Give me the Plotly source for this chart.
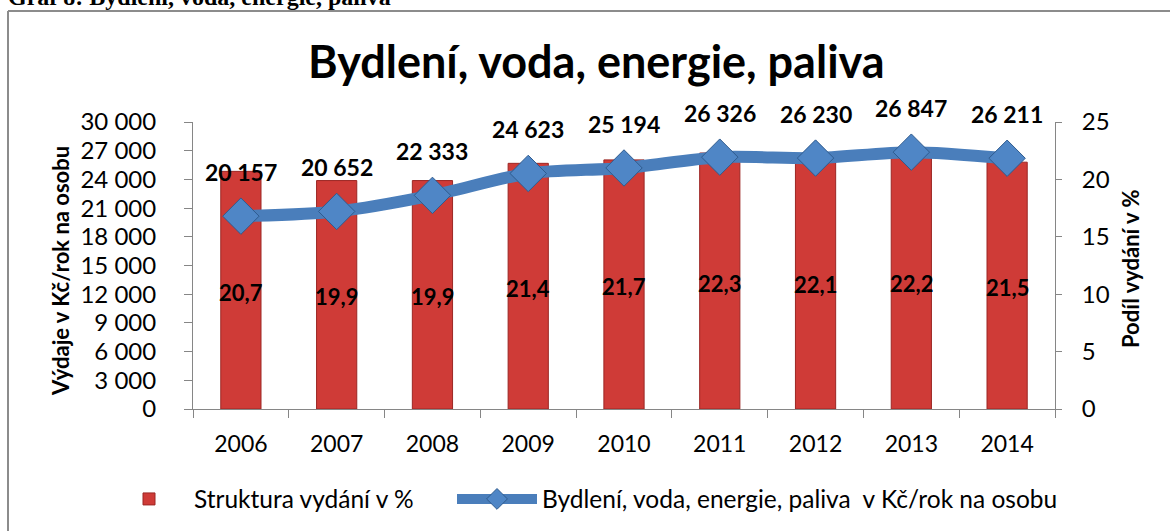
import plotly.graph_objects as go

years = [2006, 2007, 2008, 2009, 2010, 2011, 2012, 2013, 2014]
share_pct = [20.7, 19.9, 19.9, 21.4, 21.7, 22.3, 22.1, 22.2, 21.5]
spend_czk = [20157, 20652, 22333, 24623, 25194, 26326, 26230, 26847, 26211]
left_ticks = [0, 3000, 6000, 9000, 12000, 15000, 18000, 21000, 24000, 27000, 30000]
right_ticks = [0, 5, 10, 15, 20, 25]

W, H = 1170, 531
L, R, T, B = 193, 115, 122, 122
PW, PH = W - L - R, H - T - B


def px(x):
    return (x - L) / PW


def py(y):
    return (H - B - y) / PH


FONT = "Lato"
boundaries = [y - 0.5 for y in years] + [years[-1] + 0.5]

fig = go.Figure()
fig.add_trace(go.Bar(
    x=years, y=share_pct, name="Struktura vydání v %",
    marker=dict(color="#CF3B37", line=dict(color="#9C2724", width=1)),
    width=0.42, yaxis="y", legend="legend",
))
fig.add_trace(go.Scatter(
    x=years, y=spend_czk, name="Bydlení, voda, energie, paliva  v Kč/rok na osobu",
    mode="lines+markers", yaxis="y2", legend="legend2",
    line=dict(color="#4A7EBB", width=12, shape="spline", smoothing=0.8),
    marker=dict(symbol="diamond", size=28, color="#4F86C6",
                line=dict(color="#2F5B8E", width=1)),
))

annotations = []
for yr, v in zip(years, share_pct):
    annotations.append(dict(
        x=yr, y=v / 2, xref="x", yref="y", showarrow=False,
        xanchor="center", yanchor="middle",
        text=f"{v:.1f}".replace(".", ","),
        font=dict(family=FONT, size=22, color="black", weight="bold"),
        yshift=-2,
    ))
for yr, v in zip(years, spend_czk):
    annotations.append(dict(
        x=yr, y=v, xref="x", yref="y2", showarrow=False,
        xanchor="center", yanchor="middle",
        text=f"{v:,}".replace(",", " "),
        font=dict(family=FONT, size=23, color="black", weight="bold"),
        yshift=44,
    ))
annotations.append(dict(
    x=px(60), y=py(271), xref="paper", yref="paper", showarrow=False,
    xanchor="center", yanchor="middle",
    text="Výdaje v Kč/rok na osobu", textangle=-90,
    font=dict(family=FONT, size=22, color="black", weight="bold"),
))
annotations.append(dict(
    x=px(1130), y=py(269), xref="paper", yref="paper", showarrow=False,
    xanchor="center", yanchor="middle",
    text="Podíl vydání v %", textangle=-90,
    font=dict(family=FONT, size=22, color="black", weight="bold"),
))
annotations.append(dict(
    x=px(596), y=py(61), xref="paper", yref="paper", showarrow=False,
    xanchor="center", yanchor="middle",
    text="Bydlení, voda, energie, paliva",
    font=dict(family=FONT, size=45, color="black", weight="bold"),
))
annotations.append(dict(
    x=px(6), y=py(-3), xref="paper", yref="paper", showarrow=False,
    xanchor="left", yanchor="middle",
    text="Graf 8: Bydlení, voda, energie, paliva",
    font=dict(family="Liberation Serif", size=24, color="black", weight="bold"),
))

shapes = [
    dict(type="line", xref="paper", yref="paper", x0=px(8), x1=px(1175), y0=py(11), y1=py(11),
         line=dict(color="#8C8C8C", width=2)),
    dict(type="line", xref="paper", yref="paper", x0=px(8), x1=px(8), y0=py(11), y1=py(540),
         line=dict(color="#8C8C8C", width=2)),
]

axis_col = "#868686"
legend_common = dict(orientation="h", xanchor="left", y=py(499), yanchor="middle",
                     font=dict(family=FONT, size=24.5, color="black"), itemwidth=80,
                     bgcolor="rgba(0,0,0,0)")
fig.update_layout(
    template="none",
    width=W, height=H,
    margin=dict(l=L, r=R, t=T, b=B, pad=0, autoexpand=False),
    paper_bgcolor="white", plot_bgcolor="white",
    separators=", ",
    font=dict(family=FONT, size=22, color="black"),
    showlegend=True,
    legend=dict(x=px(104), **legend_common),
    legend2=dict(x=px(452), **legend_common),
    xaxis=dict(range=[years[0] - 0.5, years[-1] + 0.5], tickvals=years, tickformat="d",
               showgrid=False, zeroline=False, showline=True, linecolor=axis_col, linewidth=1,
               ticks="", tickfont=dict(family=FONT, size=23), ticklabelstandoff=14,
               minor=dict(tickvals=boundaries, ticks="outside", ticklen=8, tickcolor=axis_col,
                          showgrid=False),
               automargin=False),
    yaxis=dict(side="right", range=[0, 25], tickvals=right_ticks, showgrid=False, zeroline=False,
               showline=True, linecolor=axis_col, linewidth=1, ticks="outside", ticklen=6,
               tickcolor=axis_col, tickfont=dict(family=FONT, size=24), ticklabelstandoff=15,
               automargin=False),
    yaxis2=dict(side="left", overlaying="y", range=[0, 30000], tickvals=left_ticks,
                tickformat=",d", showgrid=False, zeroline=False,
                showline=True, linecolor=axis_col, linewidth=1, ticks="outside", ticklen=8,
                tickcolor=axis_col, tickfont=dict(family=FONT, size=24), ticklabelstandoff=23,
                automargin=False),
    annotations=annotations,
    shapes=shapes,
)

fig.write_html("out.html", config={"displayModeBar": False},
               post_script="document.body.style.margin='0';")
